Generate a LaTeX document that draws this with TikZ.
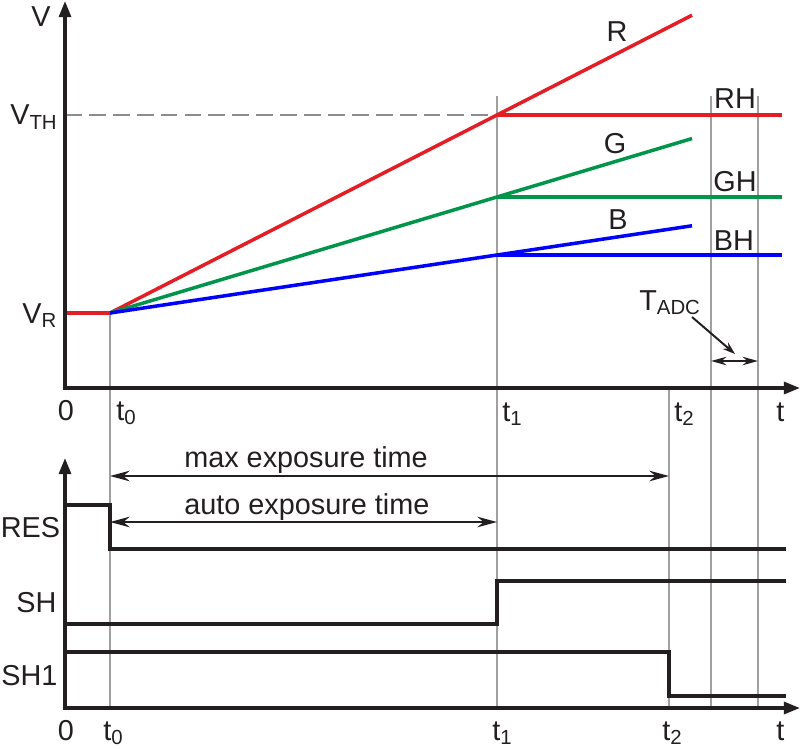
\documentclass[tikz,border=0pt]{standalone}
\usepackage{fontspec}
\setmainfont{Liberation Sans}
\usepackage{tikz}
\usetikzlibrary{calc,arrows.meta}
\definecolor{ink}{HTML}{231F20}
\definecolor{rule}{HTML}{A0A0A0}
\definecolor{thgrey}{HTML}{8C8C8C}
\definecolor{chR}{HTML}{E31E24}
\definecolor{chG}{HTML}{00954A}
\definecolor{chB}{HTML}{0000FF}
\newcommand{\lo}[1]{\raisebox{-3.5pt}{\fontsize{14.5}{16}\selectfont #1}}
\tikzset{
  axisline/.style={draw=ink, line width=2.4pt, {Triangle[length=11.5pt,width=8.5pt]}-{Triangle[length=11.5pt,width=8.5pt]}},
  sig/.style={draw=ink, line width=3.2pt},
  tline/.style={draw=rule, line width=1.9pt},
  chan/.style={line width=2.5pt, line join=round},
  spanarr/.style={draw=ink, line width=1.6pt, {Stealth[length=14pt,width=7.5pt]}-{Stealth[length=14pt,width=7.5pt]}},
  lab/.style={text=ink, font=\fontsize{20.5}{24}\selectfont, inner sep=0pt},
}
\begin{document}
\begin{tikzpicture}[x=0.025cm,y=-0.025cm]
  \useasboundingbox (0,0) rectangle (800,748);
  \coordinate (O1) at (65,388);
  \coordinate (O2) at (65,708);
  \coordinate (VR) at (65,313);
  \coordinate (T0) at (110,313);
  \coordinate (VTH) at (65,115);
  \coordinate (R1) at (497,115);
  \coordinate (G1) at (497,197);
  \coordinate (B1) at (497,255);

  % time markers
  \draw[tline, line width=1.3pt] (T0) -- (T0 |- O2);
  \foreach \x/\top/\w in {497/96/1.9, 669/388/1.5, 711/96/1.9, 758/96/1.9}
    \draw[tline, line width=\w pt] (\x,\top) -- (\x,708);
  \draw[draw=thgrey, line width=2.1pt, dash pattern=on 12pt off 5pt] (VTH) -- (R1);

  % integration ramps
  \draw[chan, draw=chR] (VR) -- (T0) -- ($(T0)!1.504!(R1)$);
  \draw[chan, draw=chG] (T0) -- ($(T0)!1.504!(G1)$);
  \draw[chan, draw=chB] (T0) -- ($(T0)!1.504!(B1)$);
  \draw[chan, draw=chR] (R1) -- (782,115);
  \draw[chan, draw=chG] (G1) -- (782,197);
  \draw[chan, draw=chB] (B1) -- (782,255);
  \draw[axisline] (65,1) -- (O1) -- (800,388);

  % control signals
  \draw[sig] (65,505) -| (110,549) -- (786,549);
  \draw[sig] (65,624) -| (497,581) -- (786,581);
  \draw[sig] (65,652) -| (669,696) -- (786,696);
  \draw[axisline] (65,458) -- (O2) -- (800,708);

  \coordinate (m0) at (110,476);
  \coordinate (m2) at (669,476);
  \coordinate (a0) at (110,522);
  \coordinate (a1) at (497,522);
  \draw[spanarr] (m0) -- (m2);
  \draw[spanarr] (a0) -- (a1);
  \coordinate (adc0) at (711,361);
  \coordinate (adc1) at (758,361);
  \draw[spanarr, line width=1.4pt, {Stealth[length=11pt,width=6pt]}-{Stealth[length=11pt,width=6pt]}] (adc0) -- (adc1);
  \coordinate (adcfrom) at (692,317);
  \coordinate (adcto) at (735,354);
  \draw[ink, line width=1.4pt, -{Stealth[length=9pt,width=6pt]}] (adcfrom) -- (adcto);

  % labels
  \node[lab] (vlab) at (41,17) {V};
  \node[lab, anchor=base west] (vth) at (10,125) {V\lo{TH}};
  \node[lab, anchor=base west] (vr) at (22,323) {V\lo{R}};
  \node[lab, anchor=base] (zero1) at (66,420) {0};
  \node[lab, anchor=base west] (t0a) at (116,420) {t\lo{0}};
  \node[lab, anchor=base west] (t1a) at (502,421) {t\lo{1}};
  \node[lab, anchor=base west] (t2a) at (674,421) {t\lo{2}};
  \node[lab, anchor=base west] (ta) at (776,421) {t};
  \node[lab, anchor=base] (rlab) at (617,42) {R};
  \node[lab, anchor=base] (rhlab) at (735,109) {RH};
  \node[lab, anchor=base] (glab) at (615,153) {G};
  \node[lab, anchor=base] (ghlab) at (735,191) {GH};
  \node[lab, anchor=base] (blab) at (618,229) {B};
  \node[lab, anchor=base] (bhlab) at (734,250) {BH};
  \node[lab, anchor=base west] (tadc) at (639,310) {T\lo{ADC}};
  \node[lab, anchor=base west] (maxexp) at (184,467) {max exposure time};
  \node[lab, anchor=base west] (autoexp) at (184,514) {auto exposure time};
  \node[lab, anchor=base west] (res) at (0.5,537) {RES};
  \node[lab, anchor=base west] (sh) at (16,612) {SH};
  \node[lab, anchor=base west] (sh1) at (1,685) {SH1};
  \node[lab, anchor=base] (zero2) at (66,740) {0};
  \node[lab, anchor=base west] (t0b) at (103,740) {t\lo{0}};
  \node[lab, anchor=base west] (t1b) at (492,740) {t\lo{1}};
  \node[lab, anchor=base west] (t2b) at (662,740) {t\lo{2}};
  \node[lab, anchor=base west] (tb) at (776,740) {t};
\end{tikzpicture}
\end{document}
